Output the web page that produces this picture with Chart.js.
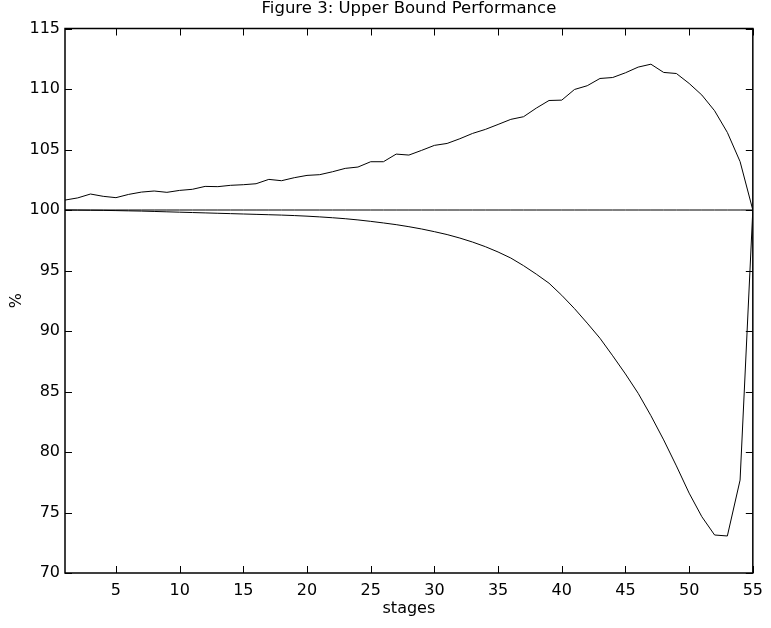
<!DOCTYPE html>
<html>
<head>
<meta charset="utf-8">
<script src="https://cdn.jsdelivr.net/npm/chart.js@4"></script>
<style>
  html, body { margin: 0; padding: 0; background: #fff; }
  #wrap { width: 771px; height: 628px; }
</style>
</head>
<body>
<div id="wrap"><canvas id="c" width="771" height="628"></canvas></div>
<script>
const stages = [1, 2, 3, 4, 5, 6, 7, 8, 9, 10, 11, 12, 13, 14, 15, 16, 17, 18, 19, 20,
  21, 22, 23, 24, 25, 26, 27, 28, 29, 30, 31, 32, 33, 34, 35, 36, 37, 38, 39, 40,
  41, 42, 43, 44, 45, 46, 47, 48, 49, 50, 51, 52, 53, 54, 55];

const upperBound = [100.82, 101.00, 101.32, 101.13, 101.02, 101.29, 101.48, 101.57, 101.46, 101.62,
  101.71, 101.95, 101.93, 102.04, 102.09, 102.17, 102.53, 102.42, 102.67, 102.86,
  102.92, 103.16, 103.44, 103.55, 103.99, 103.99, 104.62, 104.54, 104.93, 105.34,
  105.50, 105.89, 106.33, 106.66, 107.07, 107.49, 107.71, 108.42, 109.05, 109.08,
  109.96, 110.27, 110.87, 110.95, 111.34, 111.81, 112.05, 111.37, 111.28, 110.46,
  109.50, 108.20, 106.41, 104.00, 100.00];

const lowerCurve = [100.00, 99.99, 99.98, 99.97, 99.95, 99.93, 99.91, 99.88, 99.85, 99.82,
  99.79, 99.76, 99.73, 99.70, 99.67, 99.64, 99.61, 99.58, 99.54, 99.49,
  99.43, 99.36, 99.28, 99.18, 99.06, 98.93, 98.79, 98.62, 98.43, 98.21,
  97.97, 97.68, 97.35, 96.97, 96.53, 96.03, 95.40, 94.70, 93.95, 92.95,
  91.85, 90.65, 89.40, 87.95, 86.45, 84.85, 83.00, 81.00, 78.85, 76.60,
  74.65, 73.14, 73.06, 77.68, 100.00];

const referenceLine = [100, 100, 100, 100, 100, 100, 100, 100, 100, 100,
  100, 100, 100, 100, 100, 100, 100, 100, 100, 100,
  100, 100, 100, 100, 100, 100, 100, 100, 100, 100,
  100, 100, 100, 100, 100, 100, 100, 100, 100, 100,
  100, 100, 100, 100, 100, 100, 100, 100, 100, 100,
  100, 100, 100, 100, 100];

const xTickValues = [5, 10, 15, 20, 25, 30, 35, 40, 45, 50, 55];
const yTickValues = [70, 75, 80, 85, 90, 95, 100, 105, 110, 115];

const titleText = 'Figure 3: Upper Bound Performance';
const xTitle = 'stages';
const yTitle = '%';

const FONT = "'DejaVu Sans', 'Liberation Sans', Arial, sans-serif";

function toPoints(values) {
  return stages.map((s, i) => ({ x: s, y: values[i] }));
}

const framePlugin = {
  id: 'matlabFrame',
  afterDatasetsDraw(chart) {
    const { ctx, chartArea: a, scales: { x, y } } = chart;
    ctx.save();
    ctx.strokeStyle = '#000';
    ctx.lineWidth = 1;
    ctx.beginPath();
    x.ticks.forEach(t => {
      const px = Math.round(x.getPixelForValue(t.value)) + 0.5;
      ctx.moveTo(px, a.bottom); ctx.lineTo(px, a.bottom - 7);
      ctx.moveTo(px, a.top); ctx.lineTo(px, a.top + 7);
    });
    y.ticks.forEach(t => {
      const py = Math.round(y.getPixelForValue(t.value)) + 0.5;
      ctx.moveTo(a.left, py); ctx.lineTo(a.left + 7, py);
      ctx.moveTo(a.right, py); ctx.lineTo(a.right - 7, py);
    });
    ctx.stroke();
    ctx.lineWidth = 1.5;
    ctx.strokeRect(a.left, a.top, a.right - a.left, a.bottom - a.top);
    ctx.restore();
  }
};

const lineStyle = {
  borderColor: '#000',
  backgroundColor: '#000',
  borderWidth: 1,
  pointRadius: 0,
  fill: false,
  tension: 0
};

new Chart(document.getElementById('c'), {
  type: 'line',
  data: {
    datasets: [
      Object.assign({ label: 'upper bound', data: toPoints(upperBound) }, lineStyle),
      Object.assign({ label: '100%', data: toPoints(referenceLine) }, lineStyle),
      Object.assign({ label: 'lower', data: toPoints(lowerCurve) }, lineStyle)
    ]
  },
  options: {
    responsive: false,
    devicePixelRatio: 1,
    animation: false,
    layout: { padding: { top: 0, right: 13, bottom: 0, left: 0 } },
    plugins: {
      legend: { display: false },
      tooltip: { enabled: false },
      title: {
        display: true,
        fullSize: false,
        text: titleText,
        color: '#000',
        font: { family: FONT, size: 16.5, weight: 'normal', lineHeight: 1 },
        padding: { top: 0, bottom: 12 }
      }
    },
    scales: {
      x: {
        type: 'linear',
        min: 1,
        max: 55,
        afterBuildTicks: (scale) => { scale.ticks = xTickValues.map(v => ({ value: v })); },
        afterFit: (scale) => { scale.height = 55; },
        grid: { display: false, drawTicks: false },
        border: { display: false },
        ticks: {
          color: '#000',
          font: { family: FONT, size: 16 },
          padding: 8,
          maxRotation: 0,
          autoSkip: false
        },
        title: {
          display: true,
          text: xTitle,
          color: '#000',
          font: { family: FONT, size: 16 },
          padding: { top: 0, bottom: 10 }
        }
      },
      y: {
        type: 'linear',
        min: 70,
        max: 115,
        afterBuildTicks: (scale) => { scale.ticks = yTickValues.map(v => ({ value: v })); },
        afterFit: (scale) => { scale.width = 65; },
        grid: { display: false, drawTicks: false },
        border: { display: false },
        ticks: {
          color: '#000',
          font: { family: FONT, size: 16 },
          padding: 5,
          autoSkip: false
        },
        title: {
          display: true,
          text: yTitle,
          color: '#000',
          font: { family: FONT, size: 16 },
          padding: { top: 7, bottom: 0 }
        }
      }
    }
  },
  plugins: [framePlugin]
});
</script>
</body>
</html>
